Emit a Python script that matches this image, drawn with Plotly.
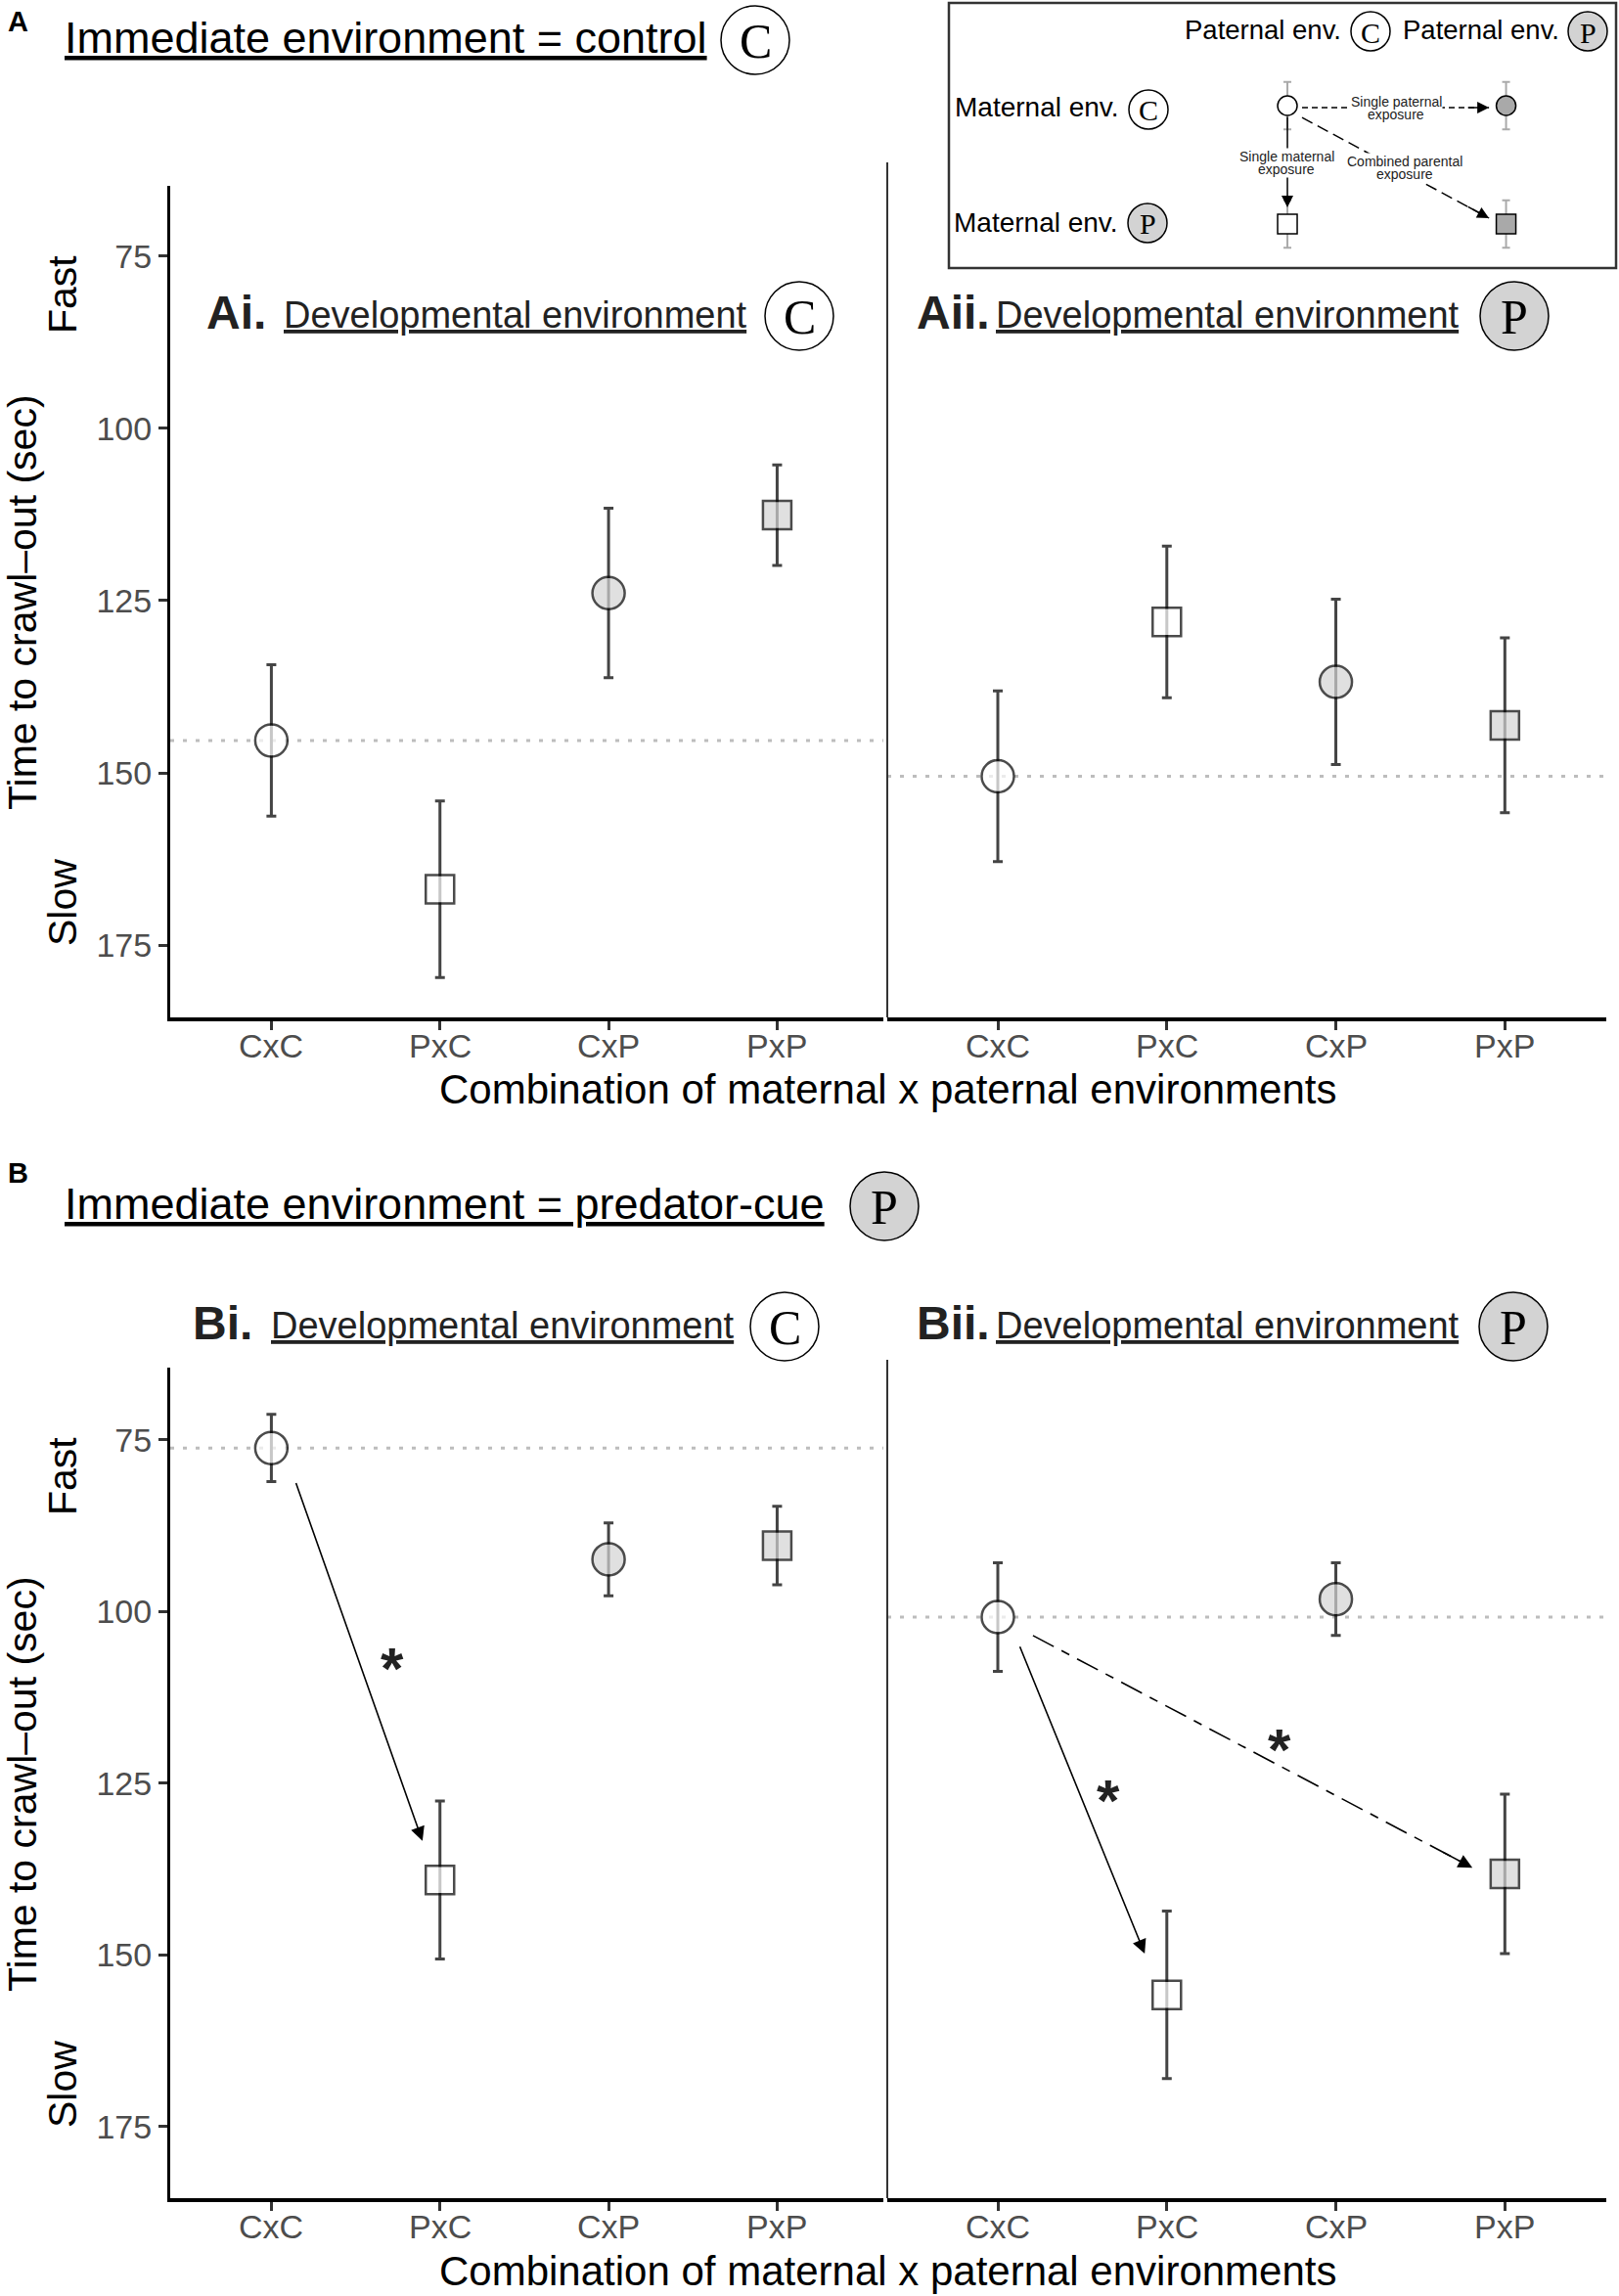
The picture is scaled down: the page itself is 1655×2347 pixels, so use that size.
import plotly.graph_objects as go

W, H = 1655, 2347
SANS = "Liberation Sans"
SERIF = "Liberation Serif"

# ---------- data ----------
groups = ["CxC", "PxC", "CxP", "PxP"]
group_pos = [0, 1, 2, 3]
group_symbol = ["circle", "square", "circle", "square"]
group_fill = ["white", "white", "#D3D3D3", "#D3D3D3"]
group_size = [33, 29, 33, 29]

ai_mean = [145.3, 166.9, 123.9, 112.6]
ai_se = [11.0, 12.8, 12.3, 7.3]
aii_mean = [150.5, 128.1, 136.8, 143.1]
aii_se = [12.4, 11.0, 12.0, 12.7]
bi_mean = [76.2, 139.1, 92.4, 90.4]
bi_se = [4.9, 11.5, 5.3, 5.7]
bii_mean = [100.8, 155.8, 98.2, 138.2]
bii_se = [7.9, 12.2, 5.3, 11.6]
y_ticks = [75, 100, 125, 150, 175]

# significance arrows (x0, y0, x1, y1, style) and stars (x, y), in data units
bi_arrows = [(0.143, 81.1, 0.896, 133.4, "solid")]
bi_stars = [(0.717, 106.5)]
bii_arrows = [(0.127, 104.9, 0.869, 149.8, "solid"),
              (0.208, 103.5, 2.808, 137.3, "dash")]
bii_stars = [(0.654, 125.7), (1.665, 118.2)]

# schematic key in the top right corner
key_col = [1, 2, 1, 2]
key_row = [1, 1, 2, 2]
key_err = [0.2, 0.2, 0.2, 0.2]
key_symbol = ["circle", "circle", "square", "square"]
key_fill = ["white", "#A9A9A9", "white", "#A9A9A9"]
key_arrows = [(1.067, 1.017, 1.922, 1.017, "dash"),
              (1.0, 1.083, 1.0, 1.86, "solid"),
              (1.067, 1.10, 1.922, 1.95, "longdash")]


def fx(p):
    return p / W


def fy(p):
    return 1 - p / H


fig = go.Figure()
shapes = []
annotations = []


def text(x, y, s, size, color="black", family=SANS, xanchor="center", angle=0, bg=None):
    annotations.append(dict(x=fx(x), y=fy(y), xref="paper", yref="paper", text=s,
                            showarrow=False, xanchor=xanchor, yanchor="middle",
                            textangle=angle, bgcolor=bg, borderpad=0,
                            font=dict(family=family, size=size, color=color)))


def badge(cx, cy, r, letter, fill, size):
    shapes.append(dict(type="circle", xref="paper", yref="paper",
                       x0=fx(cx - r), x1=fx(cx + r), y0=fy(cy + r), y1=fy(cy - r),
                       fillcolor=fill, line=dict(color="black", width=1.5)))
    text(cx, cy + 1, letter, size, family=SERIF)


# ---------- panels ----------
panels = [
    ("x", "y", ai_mean, ai_se, (174, 903), (190, 1040), [-0.6, 3.63], [185.5, 64.8], True),
    ("x2", "y2", aii_mean, aii_se, (907, 1642), (190, 1040), [-0.654, 3.6], [185.5, 64.8], False),
    ("x3", "y3", bi_mean, bi_se, (174, 903), (1398, 2247), [-0.6, 3.63], [185.4, 64.5], True),
    ("x4", "y4", bii_mean, bii_se, (907, 1642), (1398, 2247), [-0.654, 3.6], [185.4, 64.5], False),
]

layout_axes = {}
for xa, ya, mean, se, xd, yd, xr, yr, left in panels:
    fig.add_trace(go.Scatter(
        x=group_pos, y=mean, xaxis=xa, yaxis=ya, mode="markers", cliponaxis=False,
        error_y=dict(type="data", array=se, color="#444444", thickness=3, width=5),
        marker=dict(symbol=group_symbol, size=group_size, color=group_fill,
                    line=dict(color="black", width=2.5)),
        hoverinfo="skip"))
    # reference line at the CxC mean
    shapes.append(dict(type="line", xref=xa + " domain", yref=ya, x0=0, x1=1,
                       y0=mean[0], y1=mean[0], layer="below",
                       line=dict(color="#BDBDBD", width=3, dash="4px,9px")))
    xname = "xaxis" + xa[1:]
    yname = "yaxis" + ya[1:]
    layout_axes[xname] = dict(
        domain=[fx(xd[0]), fx(xd[1])], range=xr, anchor=ya,
        tickvals=group_pos, showticklabels=False, showline=True, linecolor="black",
        linewidth=3.5, ticks="outside", ticklen=9, tickwidth=2.5, tickcolor="#333333",
        showgrid=False, zeroline=False)
    layout_axes[yname] = dict(
        domain=[fy(yd[1]), fy(yd[0])], range=yr, anchor=xa,
        tickvals=y_ticks, showline=left, linecolor="black", linewidth=3,
        ticks="outside" if left else "", ticklen=9, tickwidth=2.5, tickcolor="#333333",
        showticklabels=left, tickfont=dict(family=SANS, size=34, color="#4D4D4D"),
        showgrid=False, zeroline=False)
    # category labels under the x axis, placed closer than plotly's default gap
    for pos, name in zip(group_pos, groups):
        annotations.append(dict(x=pos, y=fy(yd[1] + 29), xref=xa, yref="paper", text=name,
                                showarrow=False, yanchor="middle",
                                font=dict(family=SANS, size=34, color="#4D4D4D")))

# separators on the left of the second column
for y0, y1 in [(166, 1040), (1390, 2247)]:
    shapes.append(dict(type="line", xref="paper", yref="paper", x0=fx(907), x1=fx(907),
                       y0=fy(y0), y1=fy(y1), line=dict(color="#333333", width=2)))


def draw_arrows(arrows, xa, ya):
    for x0, y0, x1, y1, style in arrows:
        if style == "solid":
            tx, ty = x0, y0
        else:
            shapes.append(dict(type="line", xref=xa, yref=ya, x0=x0, y0=y0, x1=x1, y1=y1,
                               line=dict(color="black", width=1.6, dash="24px,9px,9px,9px")))
            tx, ty = x0 + 0.93 * (x1 - x0), y0 + 0.93 * (y1 - y0)
        annotations.append(dict(x=x1, y=y1, ax=tx, ay=ty, xref=xa, yref=ya,
                                axref=xa, ayref=ya, text="", showarrow=True,
                                arrowhead=2, arrowsize=1.8, arrowwidth=1.6,
                                arrowcolor="black", standoff=0, startstandoff=0))


def draw_stars(stars, xa, ya):
    for sx, sy in stars:
        annotations.append(dict(x=sx, y=sy, xref=xa, yref=ya, text="<b>*</b>",
                                showarrow=False, yshift=-13,
                                font=dict(family=SANS, size=60, color="#222222")))


draw_arrows(bi_arrows, "x3", "y3")
draw_stars(bi_stars, "x3", "y3")
draw_arrows(bii_arrows, "x4", "y4")
draw_stars(bii_stars, "x4", "y4")

# ---------- axis titles ----------
for top, bottom in [(190, 1040), (1398, 2247)]:
    text(23, top + 426, "Time to crawl\u2013out (sec)", 41, angle=-90)
    text(64, top + 111, "Fast", 41, angle=-90)
    text(64, top + 733, "Slow", 41, angle=-90)
    text(908, bottom + 74, "Combination of maternal x paternal environments", 42)

# ---------- headings ----------
text(18, 22, "<b>A</b>", 29)
text(18, 1199, "<b>B</b>", 29)
text(65, 38, "<u>Immediate environment = control</u>", 45, xanchor="left")
badge(772, 41, 35, "C", "white", 50)
text(65, 1230, "<u>Immediate environment = predator-cue</u>", 45, xanchor="left")
badge(904, 1233, 35, "P", "#D3D3D3", 50)

sub_titles = [(210, 289, 320, "Ai.", 817, "C", "white"),
              (936, 1017, 320, "Aii.", 1548, "P", "#D3D3D3"),
              (196, 276, 1353, "Bi.", 802, "C", "white"),
              (936, 1017, 1353, "Bii.", 1547, "P", "#D3D3D3")]
for bx, dx, ty, lab, cx, letter, fill in sub_titles:
    text(bx, ty - 1, "<b>" + lab + "</b>", 48, color="#222222", xanchor="left")
    text(dx, ty + 2, "<u>Developmental environment</u>", 38, color="#222222", xanchor="left")
    badge(cx, ty + 3, 35, letter, fill, 50)

# ---------- schematic key ----------
fig.add_trace(go.Scatter(
    x=key_col, y=key_row, xaxis="x5", yaxis="y5", mode="markers", cliponaxis=False,
    error_y=dict(type="data", array=key_err, color="#AAAAAA", thickness=2, width=4),
    marker=dict(symbol=key_symbol, size=20, color=key_fill, line=dict(color="black", width=1.5)),
    hoverinfo="skip"))
layout_axes["xaxis5"] = dict(domain=[fx(970), fx(1652)], range=[-0.548, 2.503],
                             anchor="y5", visible=False)
layout_axes["yaxis5"] = dict(domain=[fy(274), fy(3)], range=[2.372, 0.132],
                             anchor="x5", visible=False)

for x0, y0, x1, y1, style in key_arrows:
    if style == "solid":
        tx, ty = x0, y0
    else:
        pattern = "6px,4px" if style == "dash" else "12px,6px"
        shapes.append(dict(type="line", xref="x5", yref="y5", x0=x0, y0=y0, x1=x1, y1=y1,
                           line=dict(color="black", width=1.5, dash=pattern)))
        tx, ty = x0 + 0.88 * (x1 - x0), y0 + 0.88 * (y1 - y0)
    annotations.append(dict(x=x1, y=y1, ax=tx, ay=ty, xref="x5", yref="y5",
                            axref="x5", ayref="y5", text="", showarrow=True,
                            arrowhead=2, arrowsize=1.6, arrowwidth=1.5,
                            arrowcolor="black", standoff=0))

shapes.append(dict(type="rect", xref="paper", yref="paper", x0=fx(970), x1=fx(1652),
                   y0=fy(274), y1=fy(3), line=dict(color="#333333", width=2.5)))
for gx in [1205, 1427]:
    shapes.append(dict(type="line", xref="paper", yref="paper", x0=fx(gx), x1=fx(gx),
                       y0=fy(274), y1=fy(3), layer="below",
                       line=dict(color="#9A9A9A", width=1.5)))
for gy in [61, 170]:
    shapes.append(dict(type="line", xref="paper", yref="paper", x0=fx(970), x1=fx(1652),
                       y0=fy(gy), y1=fy(gy), layer="below",
                       line=dict(color="#9A9A9A", width=1.5)))

text(1291, 30, "Paternal env.", 27.5)
badge(1401, 32, 20, "C", "white", 30)
text(1514, 30, "Paternal env.", 27.5)
badge(1623, 32, 20, "P", "#D3D3D3", 30)
text(1060, 110, "Maternal env.", 28)
badge(1174, 112, 20, "C", "white", 30)
text(1059, 227, "Maternal env.", 28)
badge(1173, 228, 20, "P", "#D3D3D3", 30)

for lx, ly, l1, l2 in [(1427, 104, "Single paternal", "exposure"),
                       (1315, 160, "Single maternal", "exposure"),
                       (1436, 165, "Combined parental", "exposure")]:
    text(lx, ly + 13, l2, 14, color="#222222", bg="white")
    text(lx, ly, l1, 14, color="#222222", bg="white")

fig.update_layout(width=W, height=H, margin=dict(l=0, r=0, t=0, b=0, pad=0),
                  paper_bgcolor="white", plot_bgcolor="white", showlegend=False,
                  shapes=shapes, annotations=annotations, **layout_axes)

# drop the browser's default 8px body margin so the figure sits at the page corner
fig.write_html("out.html", config={"displayModeBar": False},
               post_script="document.body.style.margin = '0';")
